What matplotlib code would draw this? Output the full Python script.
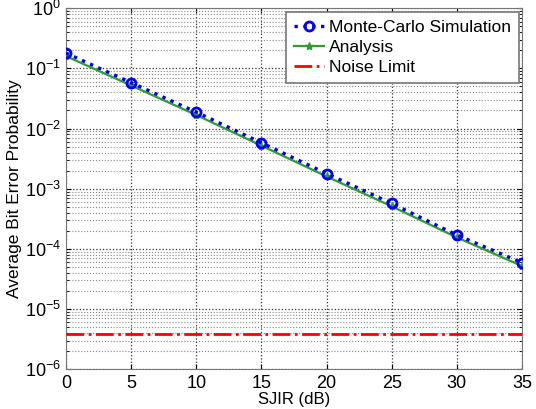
import matplotlib.pyplot as plt
import numpy as np
from matplotlib.ticker import LogLocator, FixedLocator

plt.rcParams['font.family'] = ['Liberation Sans', 'DejaVu Sans']

# SJIR in dB
sjir = [0, 5, 10, 15, 20, 25, 30, 35]
# Monte-Carlo simulation BER
ber_sim = [0.18, 0.058, 0.0188, 0.0058, 0.00179, 5.7e-4, 1.7e-4, 5.9e-5]
# analytical BER
ber_ana = [0.16, 0.052, 0.0168, 0.0052, 0.0016, 5.1e-4, 1.55e-4, 5.2e-5]
# noise floor
noise_limit = 3.9e-6

fig = plt.figure(figsize=(5.36, 4.09), dpi=100)
ax = fig.add_axes([0.123, 0.097, 0.851, 0.883])

ax.semilogy(sjir, ber_sim, 'bo:', lw=2.4, ms=6.5, mew=2, mfc='none', label='Monte-Carlo Simulation', zorder=4)
ax.semilogy(sjir, ber_ana, color='#2e9e2e', marker='*', ms=6, lw=1.6, label='Analysis', zorder=3)
ax.axhline(noise_limit, color='red', ls='-.', lw=2, label='Noise Limit', zorder=3)

ax.set_xlim(0, 35)
ax.set_ylim(1e-6, 1)
ax.xaxis.set_major_locator(FixedLocator(sjir))
ax.yaxis.set_major_locator(LogLocator(base=10, numticks=10))
ax.yaxis.set_minor_locator(LogLocator(base=10, subs=np.arange(2, 10), numticks=20))

ax.grid(True, which='major', color='#333333', ls=':', lw=0.9)
ax.grid(True, which='minor', axis='y', color='#888888', ls=':', lw=0.8)
ax.tick_params(which='both', direction='in', labelsize=13, top=True, right=True)
ax.tick_params(axis='x', pad=4)
ax.tick_params(axis='y', which='minor', labelleft=False)
for s in ax.spines.values():
    s.set_color('#777777')

ax.set_xlabel('SJIR (dB)', fontsize=12, labelpad=0)
ax.set_ylabel('Average Bit Error Probability', fontsize=12.5, labelpad=2)

leg = ax.legend(loc='upper right', fontsize=12.5, handlelength=1.7, handletextpad=0.3,
                borderpad=0.45, labelspacing=0.3, fancybox=False, framealpha=1,
                borderaxespad=0.2)
leg.get_frame().set_edgecolor('#777777')
leg.get_frame().set_linewidth(1.2)

fig.savefig('out.png', dpi=100)
